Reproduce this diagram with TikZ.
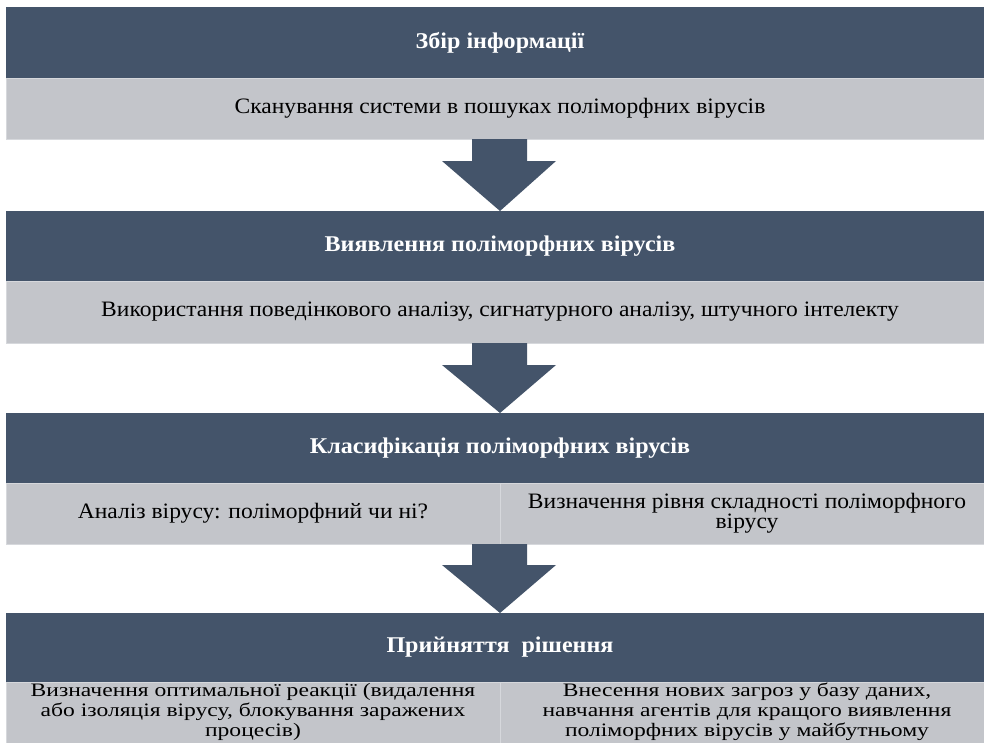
\documentclass[tikz,border=0pt]{standalone}
\usepackage{fontspec}
\setmainfont{Liberation Serif}[FakeStretch=1.07]
\newfontfamily\widefont{Liberation Serif}[FakeStretch=1.24]
\usetikzlibrary{calc}
\definecolor{hdrc}{HTML}{44546A}
\definecolor{cellc}{HTML}{C3C5CA}
\definecolor{linec}{HTML}{D6D8DC}
\tikzset{
  hdr/.style={fill=hdrc, text=white, font=\bfseries\fontsize{22.5}{24}\selectfont,
    minimum width=988pt, inner sep=0pt, outer sep=0pt, draw=none},
  cell/.style={fill=cellc, text=black, font=\fontsize{22}{20}\selectfont,
    inner sep=0pt, outer sep=0pt, draw=linec, line width=0.8pt, align=center},
  txt/.style={font=\fontsize{22}{20}\selectfont, align=center, inner sep=0pt},
  widetxt/.style={font=\widefont\fontsize{19}{20}\selectfont, align=center, inner sep=0pt},
  blockarrow/.style={fill=hdrc, draw=none}
}
\begin{document}
\begin{tikzpicture}[x=1pt,y=-1pt]
\useasboundingbox (0,0) rectangle (984,742);
\clip (0,0) rectangle (984,742);
\fill[white] (0,0) rectangle (984,742);
% block 1
\node[hdr, minimum height=71pt] (h1) at (500,42.5) {Збір інформації};
\node[cell, minimum width=988pt, minimum height=61pt, anchor=north] (g1) at (h1.south) {Сканування системи в пошуках поліморфних вірусів};
% block 2
\node[hdr, minimum height=70pt] (h2) at (500,246) {Виявлення поліморфних вірусів};
\node[cell, minimum width=988pt, minimum height=62pt, anchor=north] (g2) at (h2.south) {Використання поведінкового аналізу, сигнатурного аналізу, штучного інтелекту};
% block 3
\node[hdr, minimum height=70pt] (h3) at (500,448) {Класифікація поліморфних вірусів};
\node[cell, minimum width=494pt, minimum height=61pt, anchor=north east] (g3a) at (h3.south) {};
\node[cell, minimum width=494pt, minimum height=61pt, anchor=north west] (g3b) at (h3.south) {};
\node[txt] (t3a) at (g3a.center) {Аналіз вірусу: поліморфний чи ні?};
\node[txt] (t3b) at (g3b.center) {Визначення рівня складності поліморфного\\вірусу};
% block 4
\node[hdr, minimum height=69pt] (h4) at (500,647.5) {Прийняття~~рішення};
\node[cell, minimum width=494pt, minimum height=70pt, anchor=north east] (g4a) at (h4.south) {};
\node[cell, minimum width=494pt, minimum height=70pt, anchor=north west] (g4b) at (h4.south) {};
\node[widetxt, anchor=north] (t4a) at ($(g4a.north)+(0,1)$) {Визначення оптимальної реакції (видалення\\або ізоляція вірусу, блокування заражених\\процесів)};
\node[widetxt, anchor=north] (t4b) at ($(g4b.north)+(0,1)$) {Внесення нових загроз у базу даних,\\навчання агентів для кращого виявлення\\поліморфних вірусів у майбутньому};
% arrows
\fill[blockarrow] ($(g1.south)+(-28,0)$) -- ($(g1.south)+(27,0)$) -- ($(g1.south)+(27,22)$) -- ($(g1.south)+(56,22)$)
   -- (h2.north) -- ($(g1.south)+(-58,22)$) -- ($(g1.south)+(-28,22)$) -- cycle;
\fill[blockarrow] ($(g2.south)+(-28,0)$) -- ($(g2.south)+(27,0)$) -- ($(g2.south)+(27,22)$) -- ($(g2.south)+(56,22)$)
   -- (h3.north) -- ($(g2.south)+(-58,22)$) -- ($(g2.south)+(-28,22)$) -- cycle;
\fill[blockarrow] ($(g3a.south east)+(-28,0)$) -- ($(g3a.south east)+(27,0)$) -- ($(g3a.south east)+(27,21)$) -- ($(g3a.south east)+(56,21)$)
   -- (h4.north) -- ($(g3a.south east)+(-58,21)$) -- ($(g3a.south east)+(-28,21)$) -- cycle;
\end{tikzpicture}
\end{document}
